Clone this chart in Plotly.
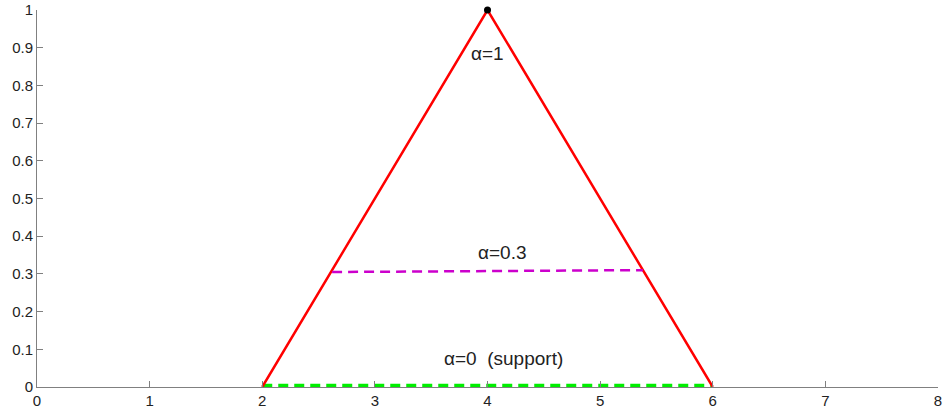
import plotly.graph_objects as go

tri_x = [2, 4, 6]
tri_y = [0, 1, 0]
cut03_x = [2.62, 5.38]
cut03_y = [0.305, 0.31]
cut0_x = [2, 6]
cut0_y = [0.004, 0.004]
peak_x = [4]
peak_y = [1]
x_ticks = [0, 1, 2, 3, 4, 5, 6, 7, 8]
y_ticks = [0, 0.1, 0.2, 0.3, 0.4, 0.5, 0.6, 0.7, 0.8, 0.9, 1]
y_tick_text = ["0", "0.1", "0.2", "0.3", "0.4", "0.5", "0.6", "0.7", "0.8", "0.9", "1"]
labels = ["α=1", "α=0.3", "α=0  (support)"]
label_x = [4.0, 4.13, 4.14]
label_y = [0.885, 0.358, 0.076]

fig = go.Figure()
fig.add_trace(go.Scatter(x=cut0_x, y=cut0_y, mode="lines",
                         line=dict(color="#00ee00", width=3.5, dash="10px,6px"), cliponaxis=False))
fig.add_trace(go.Scatter(x=tri_x, y=tri_y, mode="lines",
                         line=dict(color="#ff0000", width=2.5), cliponaxis=False))
fig.add_trace(go.Scatter(x=cut03_x, y=cut03_y, mode="lines",
                         line=dict(color="#cc00cc", width=2.5, dash="10px,6px")))
fig.add_trace(go.Scatter(x=peak_x, y=peak_y, mode="markers",
                         marker=dict(color="black", size=7), cliponaxis=False))

for t, xx, yy in zip(labels, label_x, label_y):
    fig.add_annotation(x=xx, y=yy, text=t, showarrow=False,
                       font=dict(size=19, color="#222222", family="Liberation Sans, Arial"))

fig.update_layout(
    width=943, height=409,
    margin=dict(l=37, r=5, t=10, b=22),
    plot_bgcolor="white", paper_bgcolor="white",
    showlegend=False,
    font=dict(family="Liberation Sans, Arial", size=15, color="#222222"),
)
fig.update_xaxes(range=[0, 8], tickvals=x_ticks, ticks="inside", ticklen=6, tickcolor="#808080",
                 showline=True, linecolor="#808080", linewidth=1, showgrid=False, zeroline=False,
                 tickfont=dict(size=15), automargin=False)
fig.update_yaxes(range=[0, 1], tickvals=y_ticks, ticktext=y_tick_text, ticks="inside", ticklen=6,
                 tickcolor="#808080", showline=True, linecolor="#808080", linewidth=1,
                 showgrid=False, zeroline=False, tickfont=dict(size=15), automargin=False)

fig.write_html("out.html", config={"displayModeBar": False},
               post_script="document.body.style.margin='0';")
